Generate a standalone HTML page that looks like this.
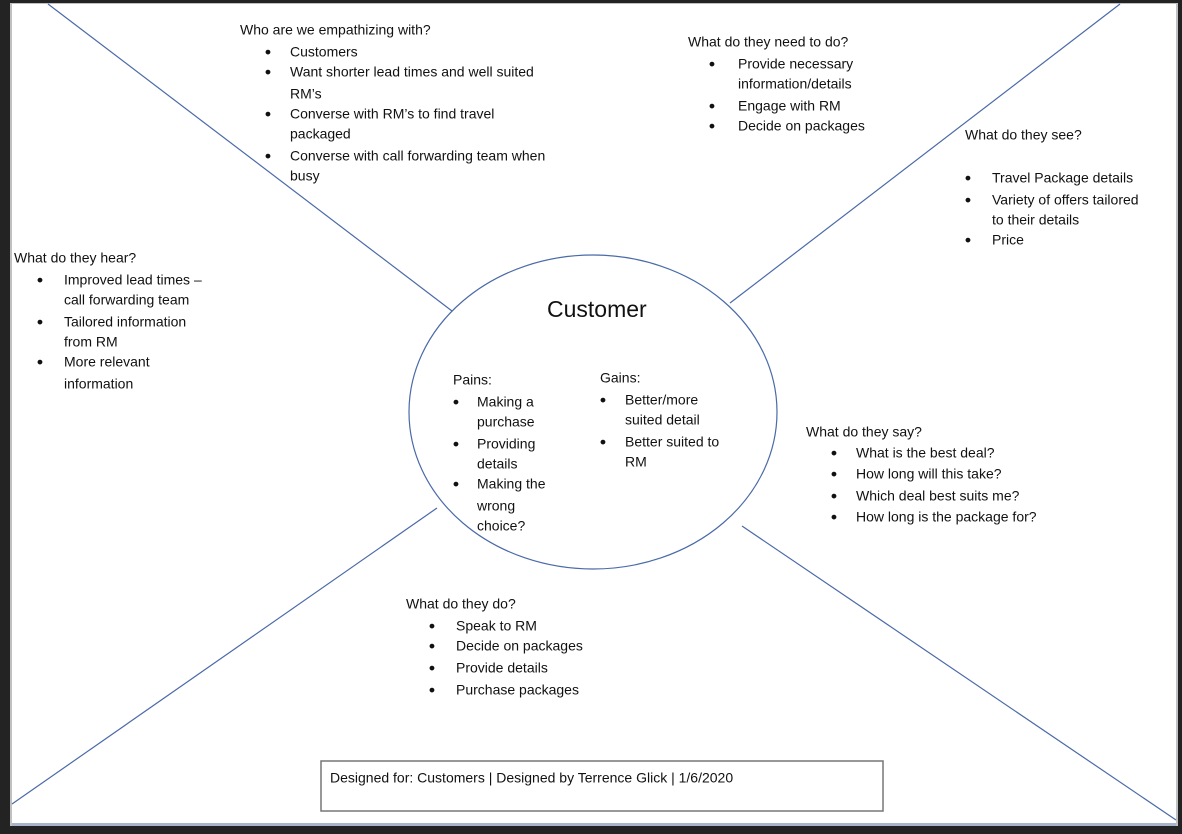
<!DOCTYPE html>
<html><head><meta charset="utf-8"><style>
html,body{margin:0;padding:0;background:#232323;}
svg{display:block;}
text{font-family:"Liberation Sans",sans-serif;font-size:14px;fill:#111;dominant-baseline:middle;}
text.b{font-size:17px;font-weight:bold;}
</style></head><body>
<svg width="1182" height="834" viewBox="0 0 1182 834" xmlns="http://www.w3.org/2000/svg">
<rect x="0" y="0" width="1182" height="834" fill="#232323"/>
<rect x="10" y="3" width="1168" height="823" fill="#c0c0c0"/>
<rect x="12" y="4" width="1164" height="820" fill="#fff"/>
<rect x="12" y="823" width="1164" height="3" fill="#a8b4c8"/>
<g stroke="#4a6aa8" stroke-width="1.2" fill="none">
<line x1="48" y1="4" x2="452" y2="311"/>
<line x1="1120" y1="4" x2="730" y2="303"/>
<line x1="12" y1="804" x2="437" y2="508"/>
<line x1="742" y1="526" x2="1176" y2="820"/>
<ellipse cx="593" cy="412" rx="184" ry="157" fill="#fff"/>
</g>
<rect x="321" y="761" width="562" height="50" fill="#fff" stroke="#777" stroke-width="1.5"/>
<g transform="translate(0,2)">
<text x="240" y="29">Who are we empathizing with?</text>
<text class="b" x="265" y="51">•</text><text x="290" y="51">Customers</text>
<text class="b" x="265" y="71">•</text><text x="290" y="71">Want shorter lead times and well suited</text>
<text x="290" y="93">RM’s</text>
<text class="b" x="265" y="113">•</text><text x="290" y="113">Converse with RM’s to find travel</text>
<text x="290" y="133">packaged</text>
<text class="b" x="265" y="155">•</text><text x="290" y="155">Converse with call forwarding team when</text>
<text x="290" y="175">busy</text>

<text x="688" y="41">What do they need to do?</text>
<text class="b" x="709" y="63">•</text><text x="738" y="63">Provide necessary</text>
<text x="738" y="83">information/details</text>
<text class="b" x="709" y="105">•</text><text x="738" y="105">Engage with RM</text>
<text class="b" x="709" y="125">•</text><text x="738" y="125">Decide on packages</text>

<text x="965" y="134">What do they see?</text>
<text class="b" x="965" y="177">•</text><text x="992" y="177">Travel Package details</text>
<text class="b" x="965" y="199">•</text><text x="992" y="199">Variety of offers tailored</text>
<text x="992" y="219">to their details</text>
<text class="b" x="965" y="239">•</text><text x="992" y="239">Price</text>

<text x="14" y="257">What do they hear?</text>
<text class="b" x="37" y="279">•</text><text x="64" y="279">Improved lead times –</text>
<text x="64" y="299">call forwarding team</text>
<text class="b" x="37" y="321">•</text><text x="64" y="321">Tailored information</text>
<text x="64" y="341">from RM</text>
<text class="b" x="37" y="361">•</text><text x="64" y="361">More relevant</text>
<text x="64" y="383">information</text>

<text x="547" y="309" style="font-size:23px">Customer</text>

<text x="453" y="379">Pains:</text>
<text class="b" x="453" y="401">•</text><text x="477" y="401">Making a</text>
<text x="477" y="421">purchase</text>
<text class="b" x="453" y="443">•</text><text x="477" y="443">Providing</text>
<text x="477" y="463">details</text>
<text class="b" x="453" y="483">•</text><text x="477" y="483">Making the</text>
<text x="477" y="505">wrong</text>
<text x="477" y="525">choice?</text>

<text x="600" y="377">Gains:</text>
<text class="b" x="600" y="399">•</text><text x="625" y="399">Better/more</text>
<text x="625" y="419">suited detail</text>
<text class="b" x="600" y="441">•</text><text x="625" y="441">Better suited to</text>
<text x="625" y="461">RM</text>

<text x="806" y="431">What do they say?</text>
<text class="b" x="831" y="452">•</text><text x="856" y="452">What is the best deal?</text>
<text class="b" x="831" y="473">•</text><text x="856" y="473">How long will this take?</text>
<text class="b" x="831" y="495">•</text><text x="856" y="495">Which deal best suits me?</text>
<text class="b" x="831" y="516">•</text><text x="856" y="516">How long is the package for?</text>

<text x="406" y="603">What do they do?</text>
<text class="b" x="429" y="625">•</text><text x="456" y="625">Speak to RM</text>
<text class="b" x="429" y="645">•</text><text x="456" y="645">Decide on packages</text>
<text class="b" x="429" y="667">•</text><text x="456" y="667">Provide details</text>
<text class="b" x="429" y="689">•</text><text x="456" y="689">Purchase packages</text>

<text x="330" y="777">Designed for: Customers | Designed by Terrence Glick | 1/6/2020</text>
</g>
</svg>
</body></html>
